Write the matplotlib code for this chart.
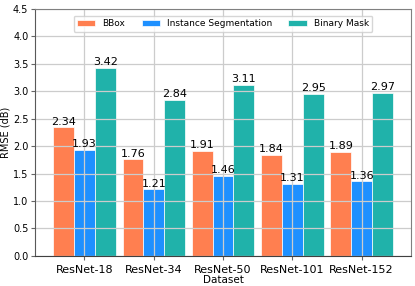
import matplotlib.pyplot as plt
import numpy as np

# data
datasets = ['ResNet-18', 'ResNet-34', 'ResNet-50', 'ResNet-101', 'ResNet-152']
bbox = [2.34, 1.76, 1.91, 1.84, 1.89]
inst_seg = [1.93, 1.21, 1.46, 1.31, 1.36]
bin_mask = [3.42, 2.84, 3.11, 2.95, 2.97]

x = np.arange(len(datasets))
w = 0.3

fig, ax = plt.subplots(figsize=(4.15, 2.86), dpi=100)
b1 = ax.bar(x - w, bbox, w, color='coral', edgecolor='white', linewidth=0.5, label='BBox')
b2 = ax.bar(x, inst_seg, w, color='dodgerblue', edgecolor='white', linewidth=0.5,
            label='Instance Segmentation')
b3 = ax.bar(x + w, bin_mask, w, color='lightseagreen', edgecolor='white', linewidth=0.5,
            label='Binary Mask')
for b in (b1, b2, b3):
    ax.bar_label(b, fmt='%.2f', fontsize=8, padding=0.5)

ax.set_xticks(x)
ax.set_xticklabels(datasets, fontsize=8)
ax.tick_params(axis='y', labelsize=7, pad=2)
ax.tick_params(length=3, color='0.4')
ax.set_yticks(np.arange(0, 4.51, 0.5))
ax.set_ylim(0, 4.5)
ax.set_xlim(-0.71, 4.71)
ax.set_xlabel('Dataset', fontsize=7.5, labelpad=0)
ax.set_ylabel('RMSE (dB)', fontsize=7)
ax.yaxis.set_label_coords(-0.066, 0.5)
ax.grid(True, color='0.8', linewidth=0.9)
for s in ax.spines.values():
    s.set_color('0.5')
ax.spines['left'].set_color('0.35')
ax.spines['bottom'].set_color('0.25')
ax.legend(loc='upper center', ncol=3, fontsize=6.5, bbox_to_anchor=(0.5, 0.99),
          handlelength=2.0, columnspacing=1.8)

fig.subplots_adjust(left=0.085, right=0.99, top=0.97, bottom=0.105)
fig.savefig('out.png', dpi=100)
